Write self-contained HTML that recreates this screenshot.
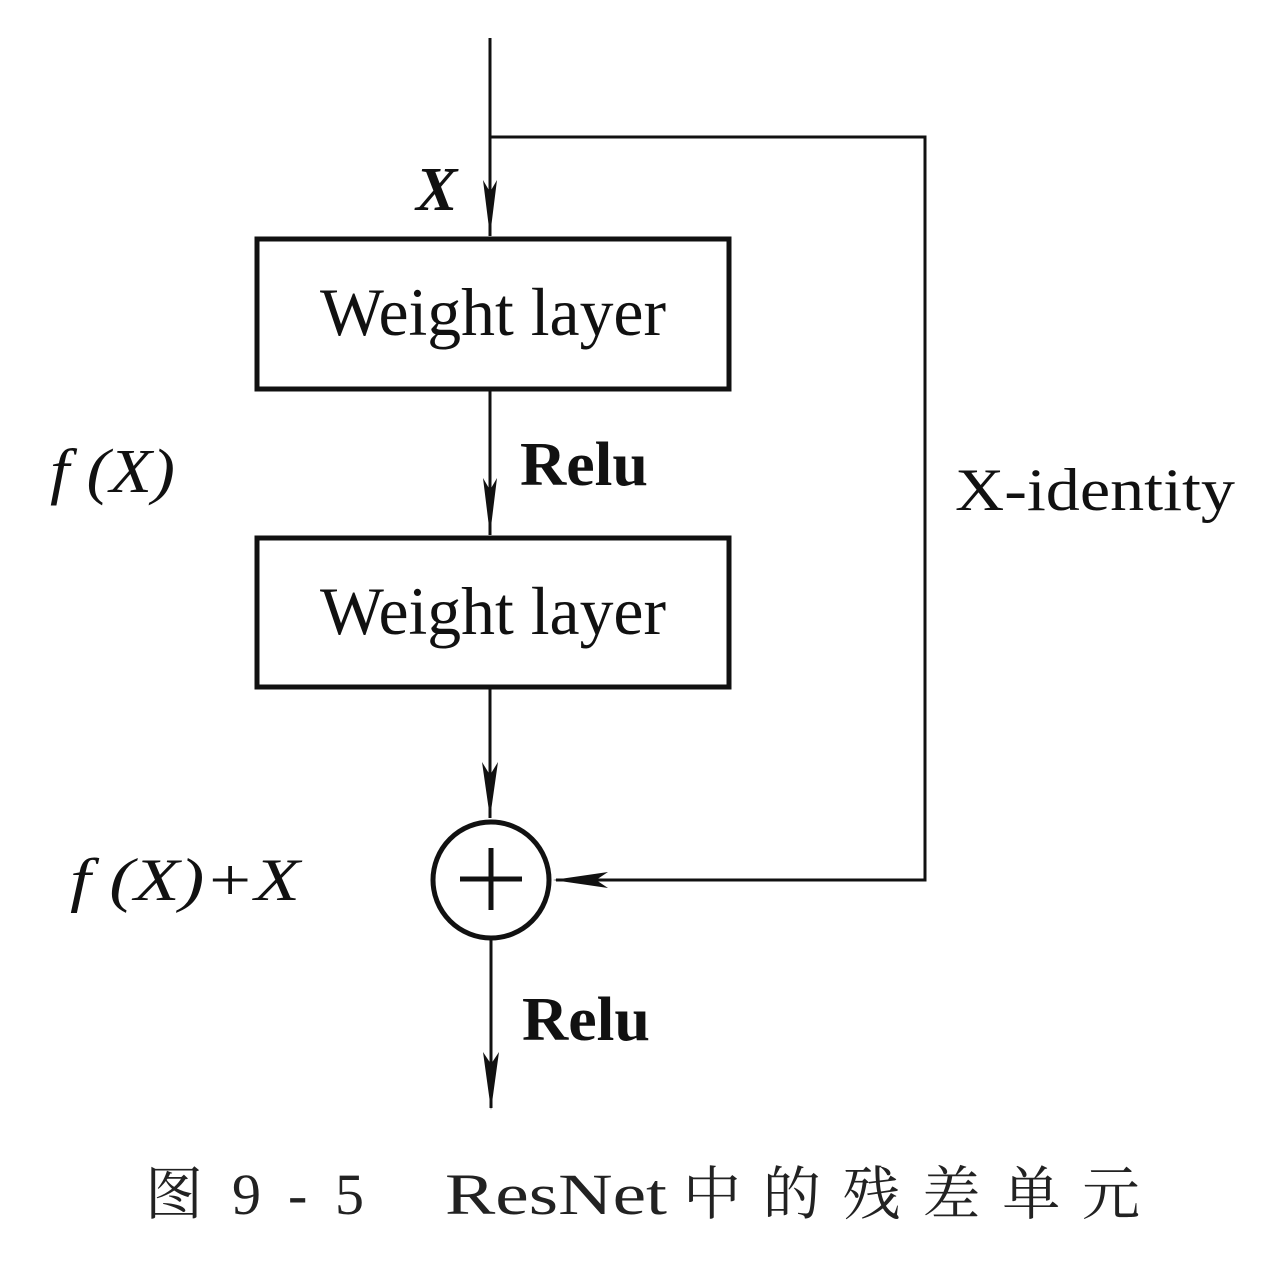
<!DOCTYPE html>
<html><head><meta charset="utf-8"><style>
html,body{margin:0;padding:0;background:#fff;}
svg{display:block}
</style></head><body>
<svg width="1280" height="1280" viewBox="0 0 1280 1280" xmlns="http://www.w3.org/2000/svg">
<g stroke="#111" fill="none">
<line x1="490" y1="38" x2="490" y2="236" stroke-width="3"/>
<path d="M483 180 L490 236 L497 180 L490 192 Z" fill="#111" stroke="none"/>
<polyline points="490,137 925,137 925,880 556,880" stroke-width="3"/>
<path d="M553 880 L608 872 L596 880 L608 888 Z" fill="#111" stroke="none"/>
<rect x="257" y="239" width="472" height="150" stroke-width="5"/>
<rect x="257" y="538" width="472" height="149" stroke-width="5"/>
<line x1="490" y1="390" x2="490" y2="535" stroke-width="3"/>
<path d="M483 478 L490 535 L497 478 L490 490 Z" fill="#111" stroke="none"/>
<line x1="490" y1="688" x2="490" y2="818" stroke-width="3"/>
<path d="M482 762 L490 818 L498 762 L490 775 Z" fill="#111" stroke="none"/>
<circle cx="491" cy="880" r="58" stroke-width="5"/>
<line x1="460" y1="879" x2="522" y2="879" stroke-width="5"/>
<line x1="491" y1="848" x2="491" y2="910" stroke-width="5"/>
<line x1="491" y1="940" x2="491" y2="1108" stroke-width="3"/>
<path d="M483 1052 L491 1110 L499 1052 L491 1064 Z" fill="#111" stroke="none"/>
</g>
<g font-family="'Liberation Serif', serif" fill="#111">
<text x="416" y="210" font-size="62" font-weight="bold" font-style="italic">X</text>
<text x="320" y="335" font-size="68" textLength="346" lengthAdjust="spacingAndGlyphs">Weight layer</text>
<text x="320" y="634" font-size="68" textLength="346" lengthAdjust="spacingAndGlyphs">Weight layer</text>
<text x="520" y="485" font-size="62" font-weight="bold" textLength="128" lengthAdjust="spacingAndGlyphs">Relu</text>
<text x="522" y="1040" font-size="62" font-weight="bold" textLength="128" lengthAdjust="spacingAndGlyphs">Relu</text>
<text x="50" y="492" font-size="62" font-style="italic" textLength="125" lengthAdjust="spacingAndGlyphs">f (X)</text>
<text x="955" y="510" font-size="60" textLength="280" lengthAdjust="spacingAndGlyphs">X-identity</text>
<text x="70" y="900" font-size="60" font-style="italic" textLength="230" lengthAdjust="spacingAndGlyphs">f (X)+X</text>
</g>
<g font-family="'Liberation Serif','Noto Serif CJK SC',serif" fill="#222" font-size="58">
<text x="145" y="1214">图</text>
<text x="232" y="1214">9</text>
<text x="288" y="1214">-</text>
<text x="335" y="1214">5</text>
<text x="445" y="1214" textLength="222" lengthAdjust="spacingAndGlyphs">ResNet</text>
<text x="683" y="1214" textLength="457" lengthAdjust="spacing">中的残差单元</text>
</g>
</svg>
</body></html>
